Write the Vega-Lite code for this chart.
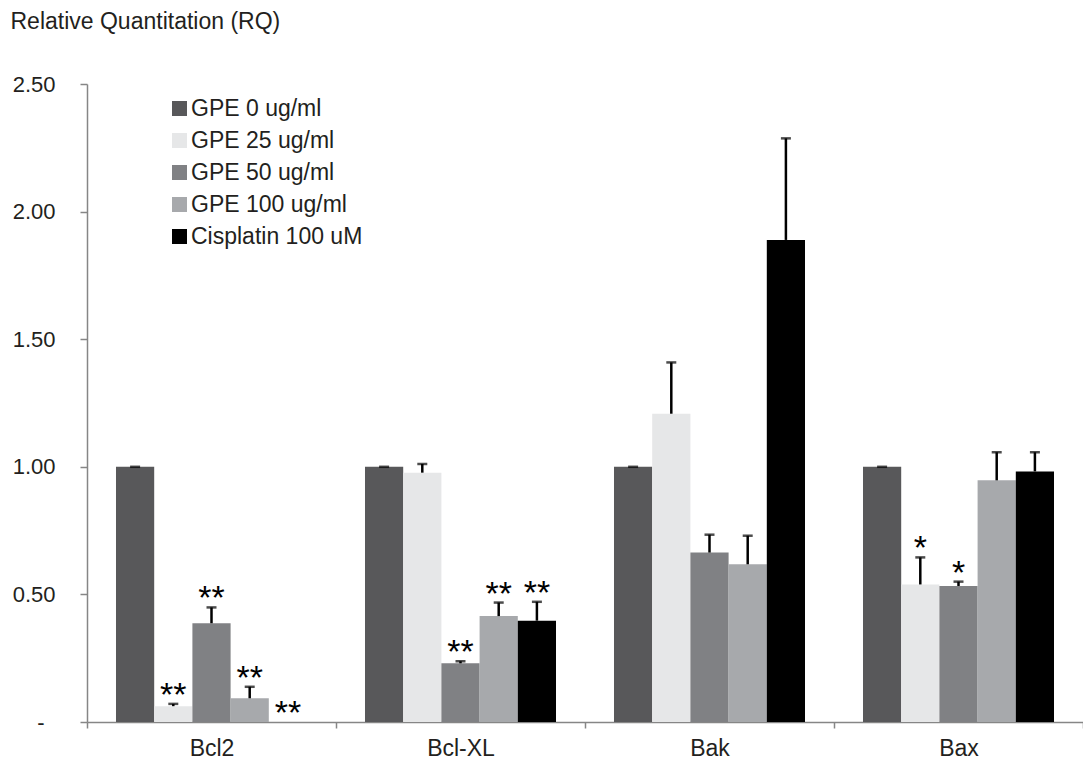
{
  "$schema": "https://vega.github.io/schema/vega-lite/v6.json",
  "autosize": {"type": "none"},
  "padding": {"left": 87, "top": 84, "right": 0, "bottom": 42},
  "width": 996,
  "height": 638,
  "config": {
    "view": {"stroke": null},
    "font": "Liberation Sans",
    "axis": {"grid": false, "domainColor": "#868686", "tickColor": "#868686", "domainWidth": 1.5, "tickWidth": 1.5, "labelColor": "#231f20", "titleColor": "#231f20", "labelFont": "Liberation Sans", "titleFont": "Liberation Sans", "titleFontWeight": "normal"},
    "legend": {"labelFont": "Liberation Sans", "labelColor": "#231f20"}
  },
  "data": {
    "values": [
      {"gene": "Bcl2", "treatment": "GPE 0 ug/ml", "value": 1.0, "upper": 1.0, "sig": ""},
      {"gene": "Bcl2", "treatment": "GPE 25 ug/ml", "value": 0.062, "upper": 0.071, "sig": "**"},
      {"gene": "Bcl2", "treatment": "GPE 50 ug/ml", "value": 0.387, "upper": 0.449, "sig": "**"},
      {"gene": "Bcl2", "treatment": "GPE 100 ug/ml", "value": 0.093, "upper": 0.138, "sig": "**"},
      {"gene": "Bcl2", "treatment": "Cisplatin 100 uM", "value": 0.0, "upper": 0.0, "sig": "**"},
      {"gene": "Bcl-XL", "treatment": "GPE 0 ug/ml", "value": 1.0, "upper": 1.0, "sig": ""},
      {"gene": "Bcl-XL", "treatment": "GPE 25 ug/ml", "value": 0.977, "upper": 1.011, "sig": ""},
      {"gene": "Bcl-XL", "treatment": "GPE 50 ug/ml", "value": 0.23, "upper": 0.238, "sig": "**"},
      {"gene": "Bcl-XL", "treatment": "GPE 100 ug/ml", "value": 0.415, "upper": 0.468, "sig": "**"},
      {"gene": "Bcl-XL", "treatment": "Cisplatin 100 uM", "value": 0.397, "upper": 0.471, "sig": "**"},
      {"gene": "Bak", "treatment": "GPE 0 ug/ml", "value": 1.0, "upper": 1.0, "sig": ""},
      {"gene": "Bak", "treatment": "GPE 25 ug/ml", "value": 1.208, "upper": 1.409, "sig": ""},
      {"gene": "Bak", "treatment": "GPE 50 ug/ml", "value": 0.664, "upper": 0.734, "sig": ""},
      {"gene": "Bak", "treatment": "GPE 100 ug/ml", "value": 0.618, "upper": 0.73, "sig": ""},
      {"gene": "Bak", "treatment": "Cisplatin 100 uM", "value": 1.889, "upper": 2.287, "sig": ""},
      {"gene": "Bax", "treatment": "GPE 0 ug/ml", "value": 1.0, "upper": 1.0, "sig": ""},
      {"gene": "Bax", "treatment": "GPE 25 ug/ml", "value": 0.539, "upper": 0.645, "sig": "*"},
      {"gene": "Bax", "treatment": "GPE 50 ug/ml", "value": 0.533, "upper": 0.55, "sig": "*"},
      {"gene": "Bax", "treatment": "GPE 100 ug/ml", "value": 0.947, "upper": 1.057, "sig": ""},
      {"gene": "Bax", "treatment": "Cisplatin 100 uM", "value": 0.982, "upper": 1.057, "sig": ""}
    ]
  },
  "encoding": {
    "x": {
      "field": "gene", "type": "nominal", "sort": ["Bcl2", "Bcl-XL", "Bak", "Bax"],
      "scale": {"paddingInner": 0, "paddingOuter": 0},
      "axis": {"title": null, "labelAngle": 0, "tickBand": "extent", "tickSize": 6, "labelFontSize": 23, "labelPadding": 9}
    },
    "xOffset": {
      "field": "treatment", "type": "nominal",
      "sort": ["GPE 0 ug/ml", "GPE 25 ug/ml", "GPE 50 ug/ml", "GPE 100 ug/ml", "Cisplatin 100 uM"],
      "scale": {"paddingInner": 0, "paddingOuter": 0.759}
    }
  },
  "layer": [
    {
      "mark": {"type": "bar"},
      "encoding": {
        "y": {
          "field": "value", "type": "quantitative",
          "scale": {"domain": [0, 2.5], "nice": false},
          "axis": {
            "values": [0, 0.5, 1, 1.5, 2, 2.5],
            "labelExpr": "datum.value == 0 ? '-' : format(datum.value, '.2f')",
            "labelFontSize": 22, "tickSize": 7,
            "labelPadding": {"condition": {"test": "datum.value == 0", "value": 36}, "value": 25},
            "title": "Relative Quantitation (RQ)", "titleAngle": 0, "titleAlign": "left", "titleBaseline": "alphabetic",
            "titleX": -77, "titleY": -56, "titleFontSize": 23
          }
        },
        "color": {
          "field": "treatment", "type": "nominal",
          "scale": {
            "domain": ["GPE 0 ug/ml", "GPE 25 ug/ml", "GPE 50 ug/ml", "GPE 100 ug/ml", "Cisplatin 100 uM"],
            "range": ["#58585a", "#e6e7e8", "#808184", "#a7a9ac", "#000000"]
          },
          "legend": {
            "title": null, "orient": "none", "legendX": 81, "legendY": 13,
            "symbolType": "square", "symbolSize": 225, "symbolStrokeWidth": 0, "symbolOpacity": 1,
            "labelFontSize": 23, "labelOffset": 0, "rowPadding": 8, "padding": 0, "labelLimit": 0
          }
        }
      }
    },
    {
      "transform": [{"filter": "datum.value > 0.01"}],
      "mark": {"type": "rule", "color": "#000000", "strokeWidth": 2.5},
      "encoding": {
        "y": {"field": "value", "type": "quantitative"},
        "y2": {"field": "upper"}
      }
    },
    {
      "transform": [{"filter": "datum.value > 0.01"}],
      "mark": {"type": "tick", "color": "#000000", "size": 10, "thickness": 2.5},
      "encoding": {
        "y": {"field": "upper", "type": "quantitative"}
      }
    },
    {
      "transform": [{"filter": "datum.sig != ''"}],
      "mark": {"type": "text", "fontSize": 34, "baseline": "alphabetic", "align": "center", "color": "#000000", "dy": 2},
      "encoding": {
        "y": {"field": "upper", "type": "quantitative"},
        "text": {"field": "sig"}
      }
    }
  ]
}
